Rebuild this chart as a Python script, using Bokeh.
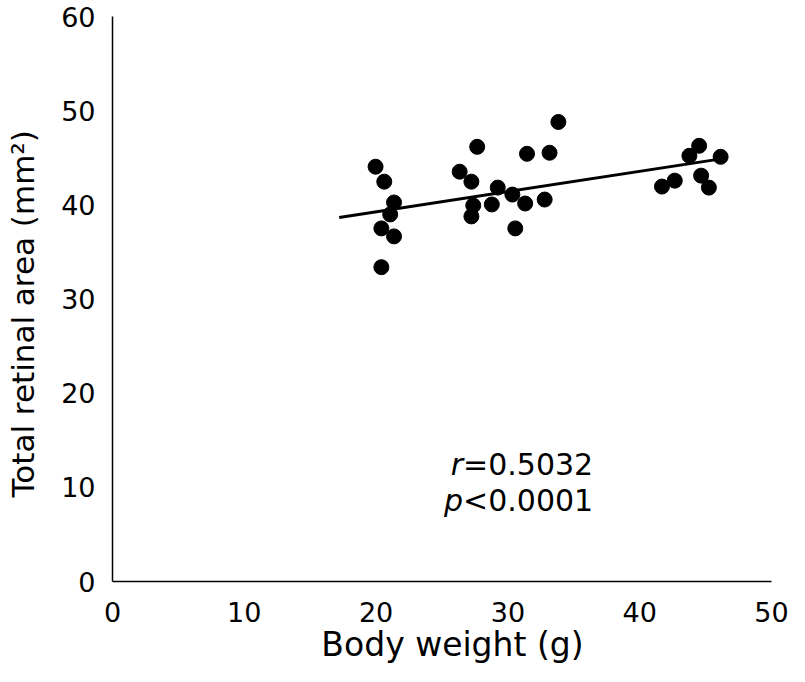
from bokeh.plotting import figure
from bokeh.models import Range1d, FixedTicker, ColumnDataSource
from bokeh.core.properties import value
from bokeh.embed import file_html
from bokeh.resources import INLINE

# Body weight (g) and total retinal area (mm^2)
weight = [19.96, 20.62, 21.36, 21.07, 20.40, 21.36, 20.40,
          26.34, 27.67, 27.23, 27.37, 27.23, 28.78, 29.23, 30.34, 30.56,
          31.31, 31.45, 33.16, 32.79, 33.83,
          41.69, 42.66, 43.77, 44.51, 44.66, 45.25, 46.14]
area = [44.05, 42.46, 40.25, 38.98, 37.50, 36.65, 33.38,
        43.52, 46.16, 42.46, 39.93, 38.77, 40.04, 41.83, 41.09, 37.50,
        40.14, 45.42, 45.53, 40.56, 48.80,
        41.94, 42.57, 45.21, 46.27, 43.10, 41.83, 45.10]

# regression line end points
trend_x = [17.2, 45.8]
trend_y = [38.66, 44.8]

x_ticks = [0, 10, 20, 30, 40, 50]
y_ticks = [0, 10, 20, 30, 40, 50, 60]

NB = "\u00a0"
x_title = NB * 2 + "Body weight (g)"
y_title = "Total retinal area (mm²)" + NB * 3

stat_symbol = ["r", "p"]
stat_rest = ["=0.5032", "<0.0001"]
stat_x = [26.6, 26.6]
stat_y = [12.46, 8.56]

FONT = "DejaVu Sans"

p = figure(width=789, height=666, output_backend="svg", toolbar_location=None,
           x_range=Range1d(0, 50), y_range=Range1d(0, 60))
p.min_border_left = 112
p.min_border_right = 18
p.min_border_top = 16
p.min_border_bottom = 85
p.outline_line_color = None
p.xgrid.visible = False
p.ygrid.visible = False
p.background_fill_color = "white"
p.border_fill_color = "white"

for ax in (p.xaxis[0], p.yaxis[0]):
    ax.axis_line_color = "black"
    ax.axis_line_width = 1.5
    ax.major_tick_line_color = None
    ax.minor_tick_line_color = None
    ax.major_tick_out = 0
    ax.major_tick_in = 0
    ax.major_label_text_font = FONT
    ax.major_label_text_font_size = "27px"
    ax.major_label_text_color = "black"
    ax.axis_label_text_font = FONT
    ax.axis_label_text_font_style = "normal"
    ax.axis_label_text_color = "black"

p.xaxis.ticker = FixedTicker(ticks=x_ticks)
p.yaxis.ticker = FixedTicker(ticks=y_ticks)
p.xaxis.axis_label = x_title
p.yaxis.axis_label = y_title
p.xaxis.axis_label_text_font_size = "33px"
p.yaxis.axis_label_text_font_size = "31px"
p.xaxis.major_label_standoff = 20
p.yaxis.major_label_standoff = 17
p.xaxis.axis_label_standoff = 0
p.yaxis.axis_label_standoff = 17

p.line(trend_x, trend_y, line_color="black", line_width=3)
p.scatter(weight, area, size=15, fill_color="black", line_color="black")

src = ColumnDataSource(dict(x=stat_x, y=stat_y, sym=stat_symbol, rest=stat_rest))
p.text(x="x", y="y", text="sym", source=src, text_font=value(FONT),
       text_font_size="30px", text_font_style="italic", text_align="right",
       text_baseline="middle", text_color="black")
p.text(x="x", y="y", text="rest", source=src, text_font=value(FONT),
       text_font_size="30px", text_align="left",
       text_baseline="middle", text_color="black")

open("out.html", "w").write(file_html(p, INLINE))
